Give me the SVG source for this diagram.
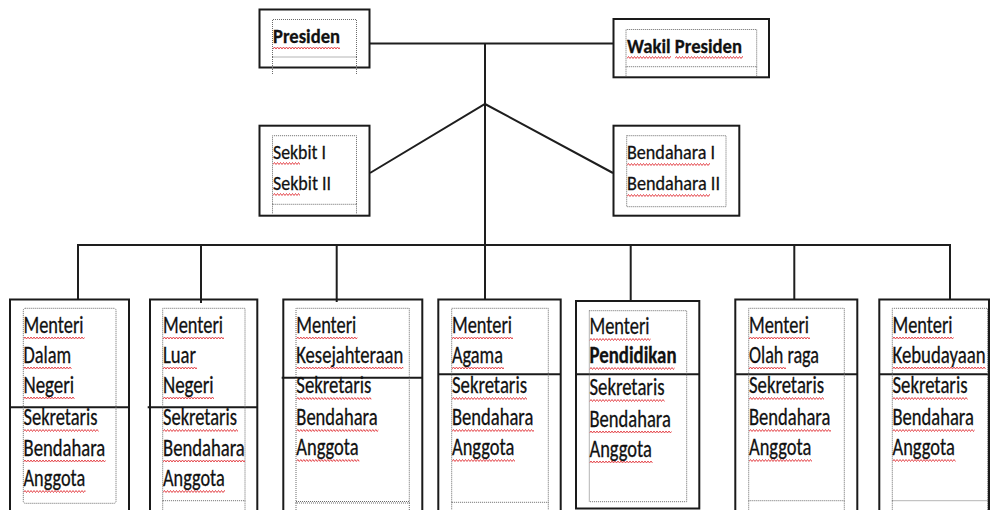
<svg xmlns="http://www.w3.org/2000/svg" xmlns:xlink="http://www.w3.org/1999/xlink" width="990" height="510" viewBox="0 0 990 510">
<style>
.box{fill:none;stroke:#1a1a1a;stroke-width:2}
.div{stroke:#1a1a1a;stroke-width:2}
.dot{fill:none;stroke:#6a6a6a;stroke-width:1;stroke-dasharray:1 1}
.con{stroke:#1e1e1e;stroke-width:2;fill:none}
.t{font-family:"Carlito","Liberation Sans",Arial,sans-serif;font-size:23.5px;fill:#111;stroke:#111;stroke-width:0.3}
.s{font-size:21px}
.b{font-weight:bold}
.zz{stroke:#e2373c;stroke-width:0.9;fill:none}
</style>
<defs>
<path id="zz" class="zz" d="M0 2.5l1.5-2 1.5 2 1.5-2 1.5 2 1.5-2 1.5 2 1.5-2 1.5 2 1.5-2 1.5 2 1.5-2 1.5 2 1.5-2 1.5 2 1.5-2 1.5 2 1.5-2 1.5 2 1.5-2 1.5 2 1.5-2 1.5 2 1.5-2 1.5 2 1.5-2 1.5 2 1.5-2 1.5 2 1.5-2 1.5 2 1.5-2 1.5 2 1.5-2 1.5 2 1.5-2 1.5 2 1.5-2 1.5 2 1.5-2 1.5 2 1.5-2 1.5 2 1.5-2 1.5 2 1.5-2 1.5 2 1.5-2 1.5 2 1.5-2 1.5 2 1.5-2 1.5 2 1.5-2 1.5 2 1.5-2 1.5 2 1.5-2 1.5 2 1.5-2 1.5 2 1.5-2 1.5 2 1.5-2 1.5 2 1.5-2 1.5 2 1.5-2 1.5 2 1.5-2 1.5 2 1.5-2 1.5 2"/>
</defs>
<rect width="990" height="510" fill="#fff"/>

<g id="connectors">
<line class="con" x1="369" y1="43.5" x2="613" y2="43.5"/>
<line class="con" x1="485" y1="43.5" x2="485" y2="300" stroke="#3a3a3a"/>
<polyline class="con" points="370,173 485,104 613,173"/>
<line class="con" x1="77" y1="245" x2="951" y2="245" stroke="#3a3a3a"/>
<line class="con" x1="78" y1="245" x2="78" y2="300"/>
<line class="con" x1="201" y1="245" x2="201" y2="303"/>
<line class="con" x1="336.7" y1="245" x2="336.7" y2="302"/>
<line class="con" x1="630.7" y1="245" x2="630.7" y2="301"/>
<line class="con" x1="794.3" y1="245" x2="794.3" y2="300"/>
<line class="con" x1="950" y1="245" x2="950" y2="300"/>
</g>

<g id="presiden">
<rect class="box" x="259.5" y="9.5" width="110" height="58"/>
<path class="dot" d="M272.5 57V19.5H356.5V57ZM272.5 57V75M356.5 57V75"/>
<text class="t s b" x="273" y="43.3" textLength="67" lengthAdjust="spacingAndGlyphs">Presiden</text>
<svg x="273" y="46.5" width="67" height="3"><use href="#zz"/></svg>
</g>

<g id="wakil-presiden">
<rect class="box" x="613.5" y="19" width="155.5" height="58.3"/>
<path class="dot" d="M626 66.7V29.5H756.7V66.7ZM626 66.7V77M756.7 66.7V77"/>
<text class="t s b" x="627" y="53.3" textLength="115" lengthAdjust="spacingAndGlyphs">Wakil Presiden</text>
<svg x="627" y="56" width="44" height="3"><use href="#zz"/></svg>
<svg x="675" y="56" width="68" height="3"><use href="#zz"/></svg>
</g>

<g id="sekbit">
<rect class="box" x="259.5" y="125.7" width="110" height="90"/>
<path class="dot" d="M272.5 204.3V135.7H356.5V204.3ZM272.5 204.3V214M356.5 204.3V214"/>
<text class="t s" x="273" y="159" textLength="53" lengthAdjust="spacingAndGlyphs">Sekbit I</text>
<text class="t s" x="273" y="190" textLength="58" lengthAdjust="spacingAndGlyphs">Sekbit II</text>
<svg x="273" y="162" width="27" height="3"><use href="#zz"/></svg>
<svg x="273" y="193" width="27" height="3"><use href="#zz"/></svg>
</g>

<g id="bendahara">
<rect class="box" x="613.5" y="125.7" width="125.8" height="90"/>
<rect class="dot" x="626.7" y="135.7" width="99.3" height="71"/>
<text class="t s" x="627" y="159" textLength="88" lengthAdjust="spacingAndGlyphs">Bendahara I</text>
<text class="t s" x="627" y="190" textLength="93" lengthAdjust="spacingAndGlyphs">Bendahara II</text>
<svg x="627" y="163" width="83" height="3"><use href="#zz"/></svg>
<svg x="627" y="194" width="83" height="3"><use href="#zz"/></svg>
</g>

<g id="menteri-dalam-negeri">
<path class="box" d="M10 512V299.5H129V512"/>
<line class="div" x1="10" y1="407.3" x2="129" y2="407.3"/>
<rect class="dot" x="23.3" y="308.3" width="92.7" height="195" rx="2"/>
<text class="t" x="23.5" y="332.7" textLength="60" lengthAdjust="spacingAndGlyphs">Menteri</text>
<text class="t" x="23.5" y="362.7" textLength="47.7" lengthAdjust="spacingAndGlyphs">Dalam</text>
<text class="t" x="23.5" y="392.7" textLength="50.7" lengthAdjust="spacingAndGlyphs">Negeri</text>
<text class="t" x="23.5" y="425" textLength="74" lengthAdjust="spacingAndGlyphs">Sekretaris</text>
<text class="t" x="23.5" y="455.5" textLength="81.7" lengthAdjust="spacingAndGlyphs">Bendahara</text>
<text class="t" x="23.5" y="486" textLength="61.7" lengthAdjust="spacingAndGlyphs">Anggota</text>
<svg x="23.5" y="336.5" width="61" height="3"><use href="#zz"/></svg>
<svg x="23.5" y="366.5" width="48" height="3"><use href="#zz"/></svg>
<svg x="23.5" y="396.5" width="51" height="3"><use href="#zz"/></svg>
<svg x="23.5" y="429" width="75" height="3"><use href="#zz"/></svg>
<svg x="23.5" y="459.5" width="82" height="3"><use href="#zz"/></svg>
<svg x="23.5" y="490" width="62" height="3"><use href="#zz"/></svg>
</g>

<g id="menteri-luar-negeri">
<path class="box" d="M150 512V299.5H257.3V512"/>
<line class="div" x1="147.7" y1="407.3" x2="257.3" y2="407.3"/>
<path class="dot" d="M162.7 500.7V308.3H245V500.7ZM162.7 500.7V512M245 500.7V512"/>
<text class="t" x="163" y="332.7" textLength="60" lengthAdjust="spacingAndGlyphs">Menteri</text>
<text class="t" x="163" y="362.7" textLength="33" lengthAdjust="spacingAndGlyphs">Luar</text>
<text class="t" x="163" y="392.7" textLength="50.7" lengthAdjust="spacingAndGlyphs">Negeri</text>
<text class="t" x="163" y="425" textLength="74" lengthAdjust="spacingAndGlyphs">Sekretaris</text>
<text class="t" x="163" y="455.5" textLength="81.7" lengthAdjust="spacingAndGlyphs">Bendahara</text>
<text class="t" x="163" y="486" textLength="61.7" lengthAdjust="spacingAndGlyphs">Anggota</text>
<svg x="163" y="336.5" width="61" height="3"><use href="#zz"/></svg>
<svg x="163" y="366.5" width="34" height="3"><use href="#zz"/></svg>
<svg x="163" y="396.5" width="51" height="3"><use href="#zz"/></svg>
<svg x="163" y="429" width="75" height="3"><use href="#zz"/></svg>
<svg x="163" y="459.5" width="82" height="3"><use href="#zz"/></svg>
<svg x="163" y="490" width="62" height="3"><use href="#zz"/></svg>
</g>

<g id="menteri-kesejahteraan">
<path class="box" d="M283.3 512V299.5H422.3V512"/>
<line class="div" x1="281.7" y1="377.7" x2="422.3" y2="377.7"/>
<path class="dot" d="M296 503V308.3H409.3V503ZM296 501.5H409.3M296 503V512M409.3 503V512"/>
<text class="t" x="296.3" y="332.7" textLength="60" lengthAdjust="spacingAndGlyphs">Menteri</text>
<text class="t" x="296.3" y="362.7" textLength="107" lengthAdjust="spacingAndGlyphs">Kesejahteraan</text>
<text class="t" x="296.3" y="393.3" textLength="75" lengthAdjust="spacingAndGlyphs">Sekretaris</text>
<text class="t" x="296.3" y="425" textLength="81.3" lengthAdjust="spacingAndGlyphs">Bendahara</text>
<text class="t" x="296.3" y="455" textLength="62.3" lengthAdjust="spacingAndGlyphs">Anggota</text>
<svg x="296.3" y="336.5" width="61" height="3"><use href="#zz"/></svg>
<svg x="296.3" y="366.5" width="107" height="3"><use href="#zz"/></svg>
<svg x="296.3" y="397" width="75" height="3"><use href="#zz"/></svg>
<svg x="296.3" y="429" width="82" height="3"><use href="#zz"/></svg>
<svg x="296.3" y="459" width="63" height="3"><use href="#zz"/></svg>
</g>

<g id="menteri-agama">
<path class="box" d="M438.3 512V299.5H560.7V512"/>
<line class="div" x1="438.3" y1="374.3" x2="560.7" y2="374.3"/>
<path class="dot" d="M451.7 502.3V308.3H548.3V502.3ZM451.7 502.3V512M548.3 502.3V512"/>
<text class="t" x="452" y="332.7" textLength="60" lengthAdjust="spacingAndGlyphs">Menteri</text>
<text class="t" x="452" y="362.7" textLength="51" lengthAdjust="spacingAndGlyphs">Agama</text>
<text class="t" x="452" y="393.3" textLength="75" lengthAdjust="spacingAndGlyphs">Sekretaris</text>
<text class="t" x="452" y="425" textLength="81.3" lengthAdjust="spacingAndGlyphs">Bendahara</text>
<text class="t" x="452" y="455" textLength="62.3" lengthAdjust="spacingAndGlyphs">Anggota</text>
<svg x="452" y="336.5" width="61" height="3"><use href="#zz"/></svg>
<svg x="452" y="366.5" width="52" height="3"><use href="#zz"/></svg>
<svg x="452" y="397" width="75" height="3"><use href="#zz"/></svg>
<svg x="452" y="429" width="82" height="3"><use href="#zz"/></svg>
<svg x="452" y="459" width="63" height="3"><use href="#zz"/></svg>
</g>

<g id="menteri-pendidikan">
<rect class="box" x="576" y="301" width="123.3" height="207.5"/>
<line class="div" x1="576" y1="374.3" x2="699.3" y2="374.3"/>
<rect class="dot" x="589.3" y="310.7" width="97.4" height="191"/>
<text class="t" x="589.5" y="334.3" textLength="60" lengthAdjust="spacingAndGlyphs">Menteri</text>
<text class="t b" x="589.5" y="363.3" textLength="87" lengthAdjust="spacingAndGlyphs">Pendidikan</text>
<text class="t" x="589.5" y="395" textLength="75" lengthAdjust="spacingAndGlyphs">Sekretaris</text>
<text class="t" x="589.5" y="426.7" textLength="81.3" lengthAdjust="spacingAndGlyphs">Bendahara</text>
<text class="t" x="589.5" y="456.7" textLength="62.3" lengthAdjust="spacingAndGlyphs">Anggota</text>
<svg x="589.5" y="338" width="61" height="3"><use href="#zz"/></svg>
<svg x="589.5" y="367" width="85" height="3"><use href="#zz"/></svg>
<svg x="589.5" y="399" width="75" height="3"><use href="#zz"/></svg>
<svg x="589.5" y="430.5" width="82" height="3"><use href="#zz"/></svg>
<svg x="589.5" y="460.5" width="63" height="3"><use href="#zz"/></svg>
</g>

<g id="menteri-olah-raga">
<path class="box" d="M735.3 512V299.5H857.3V512"/>
<line class="div" x1="735.3" y1="374.3" x2="857.3" y2="374.3"/>
<path class="dot" d="M748.7 500.7V308.3H844.3V500.7ZM748.7 500.7V512M844.3 500.7V512"/>
<text class="t" x="749" y="332.7" textLength="60" lengthAdjust="spacingAndGlyphs">Menteri</text>
<text class="t" x="749" y="362.7" textLength="70" lengthAdjust="spacingAndGlyphs">Olah raga</text>
<text class="t" x="749" y="393.3" textLength="75" lengthAdjust="spacingAndGlyphs">Sekretaris</text>
<text class="t" x="749" y="425" textLength="81.3" lengthAdjust="spacingAndGlyphs">Bendahara</text>
<text class="t" x="749" y="455" textLength="62.3" lengthAdjust="spacingAndGlyphs">Anggota</text>
<svg x="749" y="336.5" width="61" height="3"><use href="#zz"/></svg>
<svg x="749" y="366.5" width="37" height="3"><use href="#zz"/></svg>
<svg x="749" y="397" width="75" height="3"><use href="#zz"/></svg>
<svg x="749" y="429" width="82" height="3"><use href="#zz"/></svg>
<svg x="749" y="459" width="63" height="3"><use href="#zz"/></svg>
</g>

<g id="menteri-kebudayaan">
<path class="box" d="M879.3 512V299.5H989V512"/>
<line class="div" x1="879.3" y1="374.3" x2="989" y2="374.3"/>
<path class="dot" d="M892.3 500.7V308.3H987.5V500.7ZM892.3 500.7V512M987.5 500.7V512"/>
<text class="t" x="892.5" y="332.7" textLength="60" lengthAdjust="spacingAndGlyphs">Menteri</text>
<text class="t" x="892.5" y="362.7" textLength="93" lengthAdjust="spacingAndGlyphs">Kebudayaan</text>
<text class="t" x="892.5" y="393.3" textLength="75" lengthAdjust="spacingAndGlyphs">Sekretaris</text>
<text class="t" x="892.5" y="425" textLength="81.3" lengthAdjust="spacingAndGlyphs">Bendahara</text>
<text class="t" x="892.5" y="455" textLength="62.3" lengthAdjust="spacingAndGlyphs">Anggota</text>
<svg x="892.5" y="336.5" width="61" height="3"><use href="#zz"/></svg>
<svg x="892.5" y="366.5" width="93" height="3"><use href="#zz"/></svg>
<svg x="892.5" y="397" width="75" height="3"><use href="#zz"/></svg>
<svg x="892.5" y="429" width="82" height="3"><use href="#zz"/></svg>
<svg x="892.5" y="459" width="63" height="3"><use href="#zz"/></svg>
</g>
</svg>
